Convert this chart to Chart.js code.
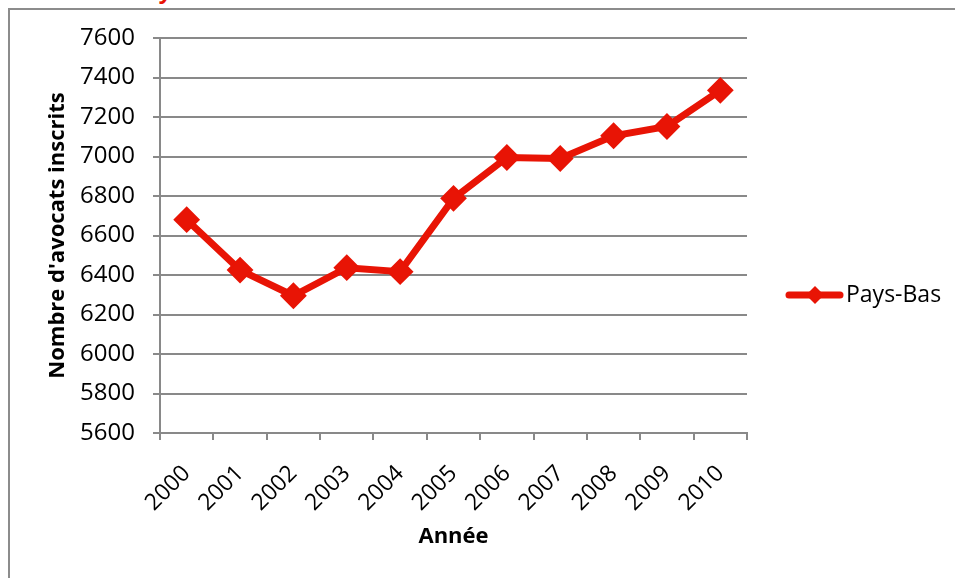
<!DOCTYPE html>
<html lang="fr">
<head>
<meta charset="utf-8">
<title>Nombre d'avocats inscrits – Pays-Bas</title>
<script src="https://cdn.jsdelivr.net/npm/chart.js@4"></script>
<style>
  html, body { margin: 0; padding: 0; background: #fff; }
  body { width: 955px; height: 578px; overflow: hidden; position: relative; }
  .frame {
    position: absolute; left: 8px; top: 8px; width: 1000px; height: 700px;
    border: 2px solid #8c8c8c; box-sizing: border-box;
  }
  .heading {
    position: absolute; left: 161px; top: -25px; margin: 0; line-height: 30px;
    font: italic bold 22px "Open Sans", sans-serif; color: #e81405;
  }
  #wrap { position: absolute; left: 0; top: 0; width: 955px; height: 578px; }
</style>
</head>
<body>
<p class="heading">y</p>
<div class="frame"></div>
<div id="wrap"><canvas id="chart"></canvas></div>
<script>
// Nombre d'avocats inscrits aux Pays-Bas, 2000–2010
const years = ['2000', '2001', '2002', '2003', '2004', '2005', '2006', '2007', '2008', '2009', '2010'];
const avocats = [6680, 6425, 6295, 6437, 6417, 6788, 6995, 6990, 7105, 7152, 7335];
const seriesName = 'Pays-Bas';

const RED = '#e81405';
const GRID = '#898989';
const FONT = '"Open Sans", "Liberation Sans", sans-serif';

// legend drawn by hand: thick line with a diamond, then the label
const sideLegend = {
  id: 'sideLegend',
  afterDraw(chart) {
    const { ctx } = chart;
    const ds = chart.data.datasets[0];
    const y = 295;
    ctx.save();
    ctx.strokeStyle = ds.borderColor;
    ctx.lineWidth = 7;
    ctx.lineCap = 'round';
    ctx.beginPath();
    ctx.moveTo(789, y);
    ctx.lineTo(840, y);
    ctx.stroke();
    ctx.fillStyle = ds.borderColor;
    ctx.beginPath();
    ctx.moveTo(815, y - 9);
    ctx.lineTo(824, y);
    ctx.lineTo(815, y + 9);
    ctx.lineTo(806, y);
    ctx.closePath();
    ctx.fill();
    ctx.fillStyle = '#000';
    ctx.font = '23px ' + FONT;
    ctx.textBaseline = 'middle';
    ctx.fillText(ds.label, 846, y);
    ctx.restore();
  }
};

new Chart(document.getElementById('chart'), {
  type: 'line',
  data: {
    labels: years,
    datasets: [{
      label: seriesName,
      data: avocats,
      borderColor: RED,
      backgroundColor: RED,
      borderWidth: 7,
      pointStyle: 'rectRot',
      pointRadius: 12,
      pointBorderWidth: 2,
      pointBackgroundColor: RED,
      pointBorderColor: RED,
      tension: 0
    }]
  },
  options: {
    responsive: true,
    maintainAspectRatio: false,
    animation: false,
    layout: { padding: { left: 0, right: 208, top: 38, bottom: 0 } },
    plugins: {
      legend: { display: false },
      tooltip: { enabled: false }
    },
    scales: {
      x: {
        offset: true,
        afterFit: (s) => { s.height = 145; },
        grid: { offset: true, drawOnChartArea: false, color: GRID, lineWidth: 2, tickLength: 7 },
        border: { color: GRID, width: 2 },
        ticks: { color: '#000', font: { family: FONT, size: 23 }, minRotation: 45, maxRotation: 45, padding: 20 },
        title: { display: true, text: 'Année', color: '#000', font: { family: FONT, size: 22, weight: 'bold' }, padding: { top: 0, bottom: 28 } }
      },
      y: {
        min: 5600,
        max: 7600,
        afterFit: (s) => { s.width = 160; },
        grid: { color: GRID, lineWidth: 2, tickLength: 7 },
        border: { color: GRID, width: 2 },
        ticks: { stepSize: 200, color: '#000', font: { family: FONT, size: 24 }, padding: 18, callback: (v) => String(v) },
        title: { display: true, text: "Nombre d'avocats inscrits", color: '#000', font: { family: FONT, size: 22, weight: 'bold' }, padding: { top: 45, bottom: 0 } }
      }
    }
  },
  plugins: [sideLegend]
});
</script>
</body>
</html>
